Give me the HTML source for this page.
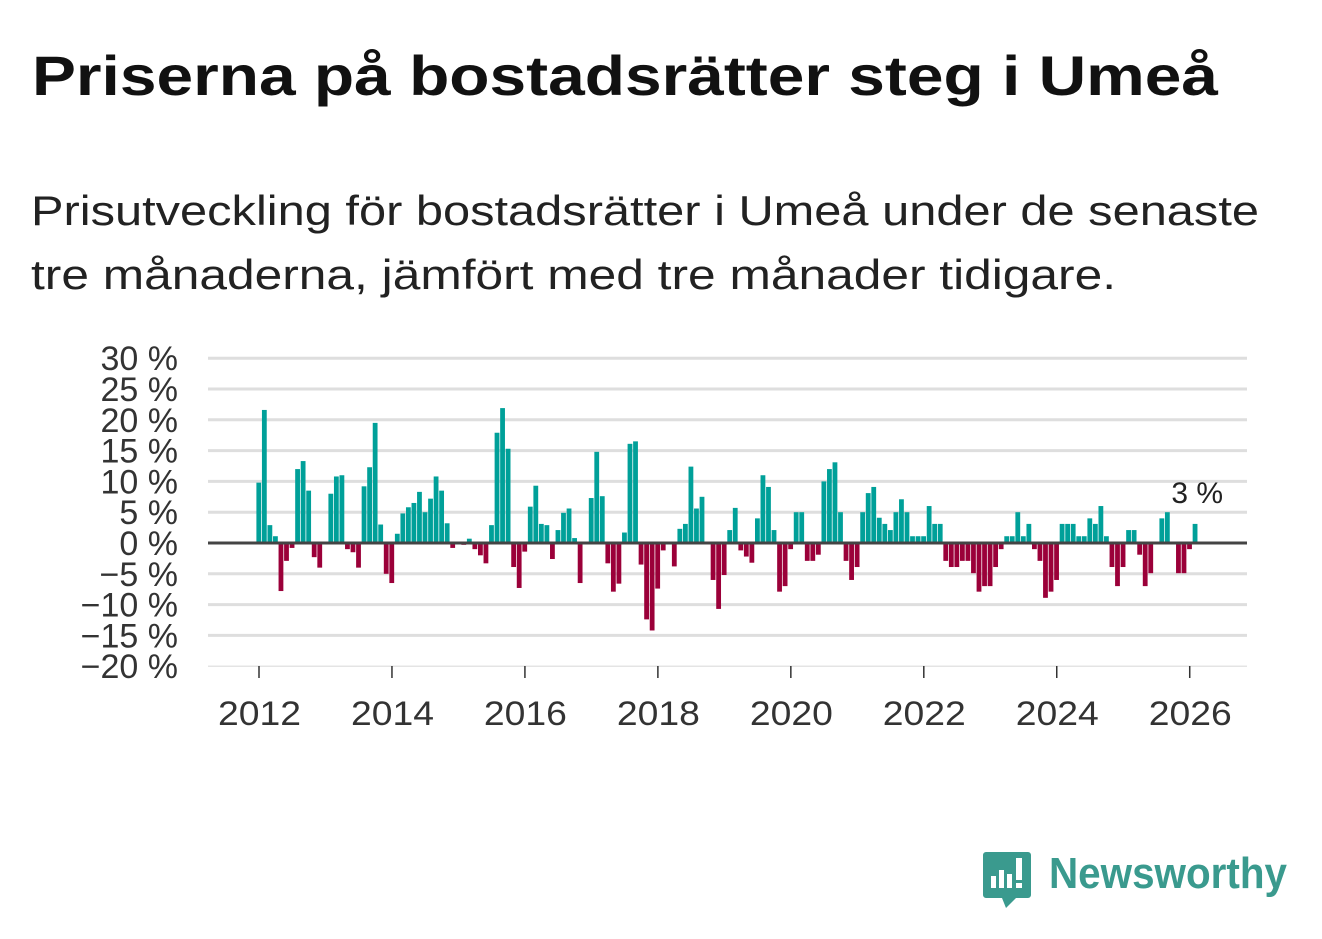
<!DOCTYPE html>
<html><head><meta charset="utf-8"><style>
html,body{margin:0;padding:0;background:#fff;}
svg{display:block;font-family:"Liberation Sans",sans-serif;}
</style></head><body>
<svg id="chart" width="1322" height="939" viewBox="0 0 1322 939" xmlns="http://www.w3.org/2000/svg">
<rect width="1322" height="939" fill="#fff"/>
<text x="32" y="95" font-size="56" font-weight="bold" fill="#111" textLength="1186" lengthAdjust="spacingAndGlyphs">Priserna på bostadsrätter steg i Umeå</text>
<text x="31" y="225" font-size="42" fill="#222" textLength="1228" lengthAdjust="spacingAndGlyphs">Prisutveckling för bostadsrätter i Umeå under de senaste</text>
<text x="31" y="289" font-size="42" fill="#222" textLength="1085" lengthAdjust="spacingAndGlyphs">tre månaderna, jämfört med tre månader tidigare.</text>
<g id="grid"></g>
<g id="yaxis"></g>
<g id="xaxis"></g>
<g id="bars"></g>
<line id="zero" x1="208" x2="1247" stroke="#444" stroke-width="3"/>
<text id="lastlabel" font-size="30" fill="#222" text-anchor="middle">3 %</text>
<g>
<path d="M986 852 h42 a3 3 0 0 1 3 3 v40 a3 3 0 0 1 -3 3 h-12 l-10 10 l-4 -10 h-16 a3 3 0 0 1 -3 -3 v-40 a3 3 0 0 1 3 -3z" fill="#3a9a8e"/>
<rect x="991" y="876" width="5" height="12" fill="#fff"/>
<rect x="999" y="870" width="5" height="18" fill="#fff"/>
<rect x="1007" y="874" width="5" height="14" fill="#fff"/>
<rect x="1016" y="858" width="6" height="22" fill="#fff"/>
<rect x="1016" y="883" width="6" height="5" fill="#fff"/>
<text x="1049" y="888" font-size="44" font-weight="bold" fill="#3a9a8e" textLength="238" lengthAdjust="spacingAndGlyphs">Newsworthy</text>
</g>
</svg>
<script>
const values = [9.8,21.6,2.9,1.1,-7.8,-2.9,-0.8,12,13.3,8.5,-2.3,-4,
0,8,10.8,11,-1,-1.5,-4,9.2,12.3,19.5,3,-5,
-6.5,1.5,4.8,5.8,6.5,8.3,5,7.2,10.8,8.5,3.2,-0.8,
0,-0.3,0.7,-1,-2,-3.3,2.9,17.9,21.9,15.3,-3.9,-7.3,
-1.4,5.9,9.3,3.1,2.9,-2.6,2.1,4.9,5.6,0.8,-6.5,0,
7.3,14.8,7.6,-3.3,-7.9,-6.6,1.7,16.1,16.5,-3.5,-12.4,-14.2,
-7.4,-1.2,0,-3.8,2.3,3.1,12.4,5.6,7.5,0,-6,-10.7,
-5.2,2.1,5.7,-1.2,-2.2,-3.2,4,11,9.1,2.1,-7.9,-7,
-1,5,5,-2.9,-2.9,-1.9,10,12,13.1,5,-2.9,-6,
-3.9,5,8.1,9.1,4.1,3.1,2.1,5,7.1,5,1.1,1.1,
1.1,6,3.1,3.1,-2.9,-3.9,-3.9,-2.9,-2.9,-4.9,-7.9,-7,
-7,-3.9,-1,1.1,1.1,5,1.1,3.1,-1,-2.9,-8.9,-7.9,
-6,3.1,3.1,3.1,1.1,1.1,4,3.1,6,1.1,-3.9,-7,
-3.9,2.1,2.1,-1.9,-7,-4.9,0,4,5,0,-4.9,-4.9,
-1,3.1];
const yTicks = [30,25,20,15,10,5,0,-5,-10,-15,-20];
const yTickLabels = ["30 %","25 %","20 %","15 %","10 %","5 %","0 %","−5 %","−10 %","−15 %","−20 %"];
const xTickYears = [2012,2014,2016,2018,2020,2022,2024,2026];
const lastLabel = "3 %";

const NS="http://www.w3.org/2000/svg";
const y = v => 543 - v*6.16;
const x = i => 259 + i*5.54;
const xYear = yr => x((yr-2012)*12);
function mk(tag, attrs, parent){const e=document.createElementNS(NS,tag);for(const k in attrs)e.setAttribute(k,attrs[k]);parent.appendChild(e);return e;}
const grid=document.getElementById('grid'), ya=document.getElementById('yaxis'), xa=document.getElementById('xaxis'), bars=document.getElementById('bars');
yTicks.forEach((t,k)=>{
  const l=mk('line',{x1:208,x2:1247,y1:y(t),y2:y(t),stroke:t===-20?'#e4e4e4':'#dedede','stroke-width':t===-20?1.5:3},grid);
  
  
  const tx=mk('text',{x:178,y:y(t)+12,'font-size':34,fill:'#333','text-anchor':'end'},ya);
  
  
  tx.textContent=yTickLabels[k];
});
xTickYears.forEach(yr=>{
  const px=xYear(yr);
  const tk=mk('line',{x1:px,x2:px,y1:666,y2:678,stroke:'#333','stroke-width':1.5},xa);
  
  
  const tx=mk('text',{x:px-41,y:725,'font-size':34,fill:'#333',textLength:83,lengthAdjust:'spacingAndGlyphs'},xa);
  
  
  tx.textContent=yr;
});
values.forEach((v,i)=>{
  if(v===0)return;
  const top=v>0?y(v):y(0), h=Math.abs(y(v)-y(0));
  const r=mk('rect',{x:x(i)-2.6,y:top,width:4.8,height:h,fill:v>0?'#00a099':'#9b0039'},bars);
  
  
});
const z=document.getElementById('zero'); z.setAttribute('y1',y(0)); z.setAttribute('y2',y(0));
const ll=document.getElementById('lastlabel');
const li=values.length-1;
ll.setAttribute('x',x(li)+2); ll.setAttribute('y',y(values[li])-21); ll.textContent=lastLabel;
</script>
</body></html>
